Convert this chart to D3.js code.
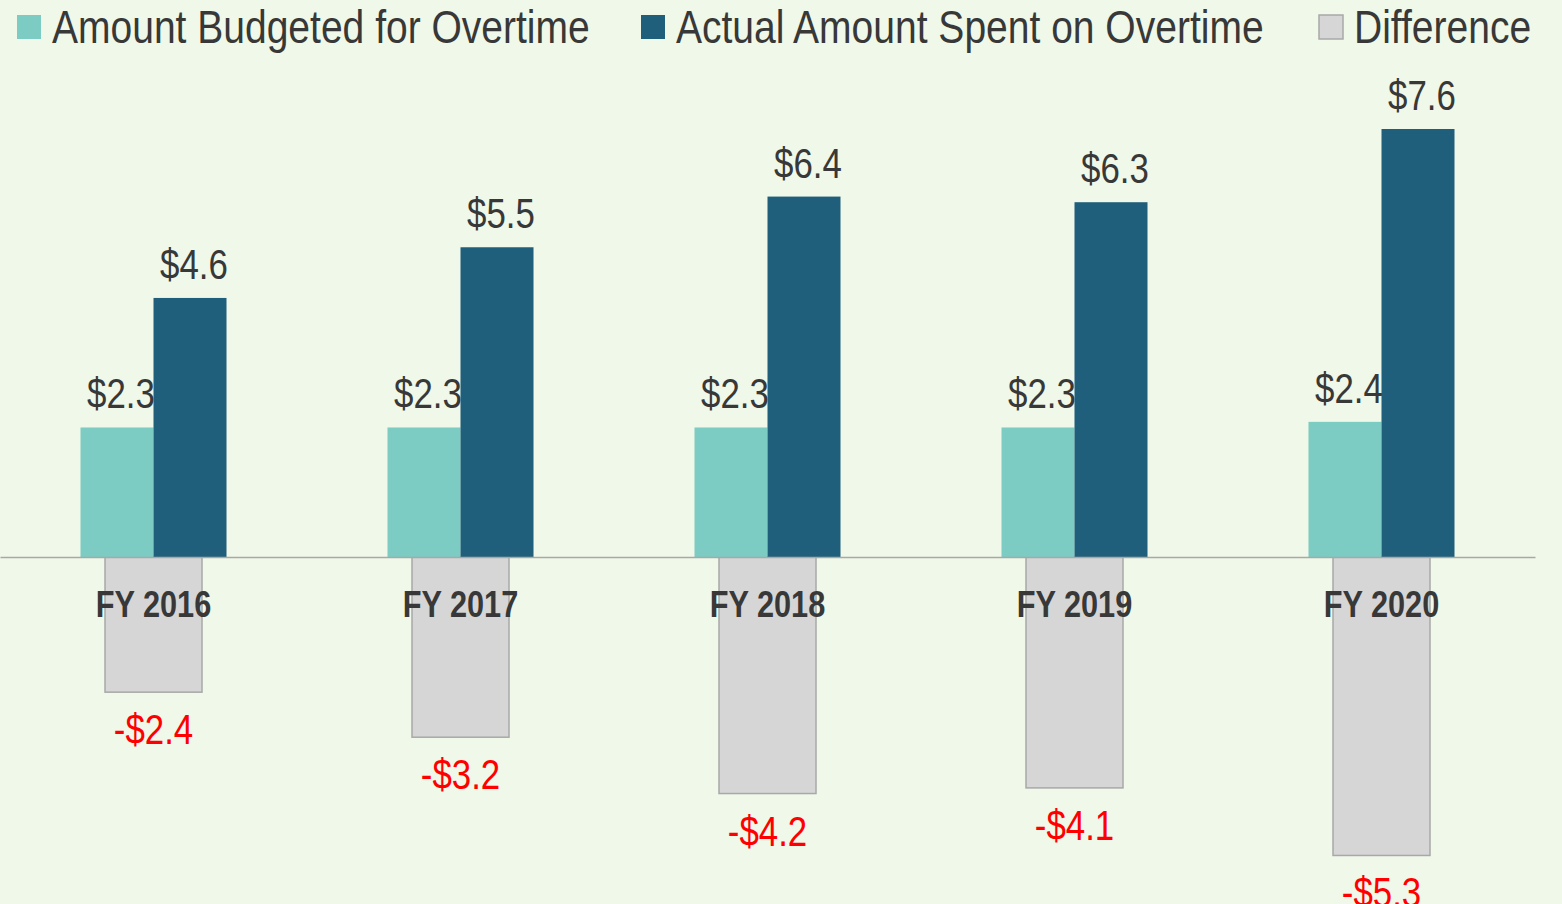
<!DOCTYPE html>
<html>
<head>
<meta charset="utf-8">
<script src="https://cdn.jsdelivr.net/npm/d3@7"></script>
<style>
  html, body { margin: 0; padding: 0; background: #F0F8E9; }
  svg { display: block; }
  text { font-family: "Liberation Sans", Arial, sans-serif; }
</style>
</head>
<body>
<svg id="chart" width="1562" height="904"></svg>
<script>
const categories = ["FY 2016", "FY 2017", "FY 2018", "FY 2019", "FY 2020"];
const budgeted   = [2.3, 2.3, 2.3, 2.3, 2.4];
const actual     = [4.6, 5.5, 6.4, 6.3, 7.6];
const difference = [-2.4, -3.2, -4.2, -4.1, -5.3];
const seriesNames = ["Amount Budgeted for Overtime", "Actual Amount Spent on Overtime", "Difference"];

const W = 1562, H = 904;
const colBudget = "#7DCCC4", colActual = "#1F5F7B", colDiff = "#D6D6D6", diffStroke = "#A8A8A8";
const textCol = "#383838";
const NARROW = 0.83; // emulate a condensed (Arial Narrow-like) face

const svg = d3.select("#chart");
svg.append("rect").attr("width", W).attr("height", H).attr("fill", "#F0F8E9");

const x = d3.scaleBand().domain(categories).range([0, 1535]).paddingInner(0).paddingOuter(0);
const xPair = d3.scaleBand().domain(["budget", "actual"]).range([0, 146]);
const y = d3.scaleLinear().domain([0, 7.6]).range([557, 129]);

const fmt = v => (v < 0 ? "-$" : "$") + d3.format(".1f")(Math.abs(v));
const place = (fx, fy) => d => `translate(${fx(d)},${fy(d)}) scale(${NARROW},1)`;

const rows = categories.map((c, i) => ({ c, b: budgeted[i], a: actual[i], d: difference[i] }));
const g = svg.append("g");

// Difference bars
g.selectAll(".diff").data(rows).join("rect")
  .attr("x", d => x(d.c) + x.bandwidth() / 2 - 48.5)
  .attr("width", 97)
  .attr("y", y(0))
  .attr("height", d => y(d.d) - y(0))
  .attr("fill", colDiff).attr("stroke", diffStroke).attr("stroke-width", 1.5);

const off = d => x(d.c) + x.bandwidth() / 2 - 73;

// Budget bars
g.selectAll(".bud").data(rows).join("rect")
  .attr("x", d => off(d) + xPair("budget"))
  .attr("width", xPair.bandwidth())
  .attr("y", d => y(d.b))
  .attr("height", d => y(0) - y(d.b))
  .attr("fill", colBudget);

// Actual bars
g.selectAll(".act").data(rows).join("rect")
  .attr("x", d => off(d) + xPair("actual"))
  .attr("width", xPair.bandwidth())
  .attr("y", d => y(d.a))
  .attr("height", d => y(0) - y(d.a))
  .attr("fill", colActual);

// Baseline axis
const axis = d3.axisBottom(x).tickSize(0).tickFormat("");
const ax = svg.append("g").attr("transform", `translate(0,${y(0)})`).call(axis);
ax.select(".domain").attr("stroke", "#A8A8A8").attr("stroke-width", 1.5);

// Category labels
g.selectAll(".cat").data(rows).join("text")
  .attr("transform", place(d => x(d.c) + x.bandwidth() / 2, () => 617))
  .attr("text-anchor", "middle")
  .attr("font-size", 37).attr("font-weight", "bold")
  .attr("fill", textCol)
  .text(d => d.c);

// Value labels
g.selectAll(".lb").data(rows).join("text")
  .attr("transform", place(d => off(d) + xPair("budget") + xPair.bandwidth() / 2 + 4, d => y(d.b) - 19))
  .attr("text-anchor", "middle").attr("font-size", 42).attr("fill", textCol)
  .text(d => fmt(d.b));

g.selectAll(".la").data(rows).join("text")
  .attr("transform", place(d => off(d) + xPair("actual") + xPair.bandwidth() / 2 + 4, d => y(d.a) - 19))
  .attr("text-anchor", "middle").attr("font-size", 42).attr("fill", textCol)
  .text(d => fmt(d.a));

g.selectAll(".ld").data(rows).join("text")
  .attr("transform", place(d => x(d.c) + x.bandwidth() / 2, d => y(d.d) + 52))
  .attr("text-anchor", "middle").attr("font-size", 42).attr("fill", "#FF0000")
  .text(d => fmt(d.d));

// Legend
const legendX = [17, 641, 1319];
const legendFill = [colBudget, colActual, colDiff];
const leg = svg.append("g");
seriesNames.forEach((name, i) => {
  leg.append("rect")
    .attr("x", legendX[i]).attr("y", 15).attr("width", 24).attr("height", 24)
    .attr("fill", legendFill[i])
    .attr("stroke", i === 2 ? diffStroke : "none").attr("stroke-width", 1.5);
  leg.append("text")
    .attr("transform", `translate(${legendX[i] + 35},43) scale(${NARROW},1)`)
    .attr("font-size", 47).attr("fill", textCol)
    .text(name);
});
</script>
</body>
</html>
